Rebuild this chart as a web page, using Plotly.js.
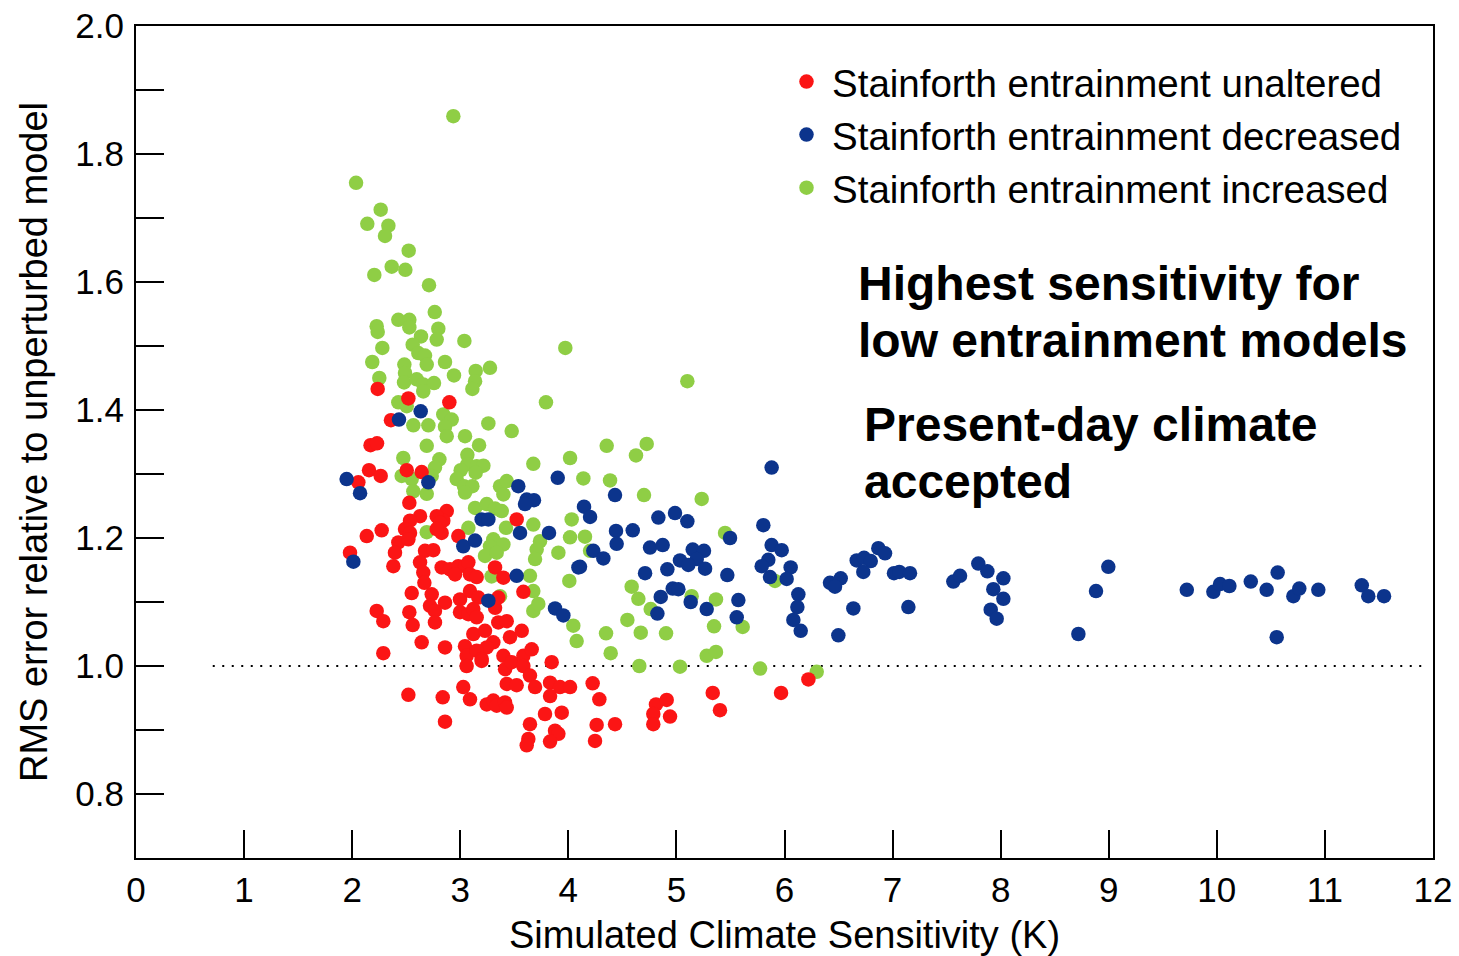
<!DOCTYPE html>
<html>
<head>
<meta charset="utf-8">
<script src="https://cdn.plot.ly/plotly-3.0.1.min.js"></script>
<style>html,body{margin:0;padding:0;background:#fff;}#chart{width:1459px;height:956px;}</style>
</head>
<body>
<div id="chart"></div>
<script>
// Stainforth entrainment unaltered (red)
const unalteredX = [2.236,2.520,2.899,2.359,2.17,2.23,2.156,2.264,2.505,2.643,2.057,2.529,2.875,2.843,2.782,2.628,2.535,2.489,2.427,2.396,2.381,2.535,2.520,2.273,2.135,2.813,2.828,2.782,2.982,3.522,2.674,2.751,2.628,2.658,1.980,2.828,2.905,2.982,3.044,3.075,2.952,3.090,3.152,3.322,3.399,2.668,2.551,2.736,2.998,3.090,3.167,2.859,2.720,2.766,3.322,3.352,3.584,2.227,2.288,2.529,2.560,2.766,2.998,3.075,3.121,3.152,3.352,3.430,3.460,3.569,3.121,3.229,3.306,3.245,3.044,3.059,3.152,3.198,2.643,2.859,2.288,3.059,3.198,3.399,3.415,3.476,3.584,3.661,3.584,3.645,3.692,3.846,3.831,3.923,4.016,3.831,3.430,3.522,3.028,3.090,3.245,3.306,3.337,3.414,3.430,2.520,2.838,2.859,3.784,3.939,3.645,3.877,3.908,3.831,3.630,3.615,4.225,4.287,4.262,4.247,4.432,4.811,4.910,4.786,4.786,4.941,5.336,5.403,5.968,6.221];
const unalteredY = [1.433,1.418,1.412,1.384,1.345,1.348,1.306,1.297,1.306,1.303,1.287,1.255,1.242,1.227,1.234,1.234,1.227,1.214,1.193,1.177,1.156,1.208,1.198,1.212,1.203,1.224,1.208,1.214,1.203,1.229,1.180,1.181,1.162,1.146,1.177,1.154,1.151,1.156,1.156,1.162,1.143,1.143,1.139,1.154,1.138,1.130,1.114,1.112,1.104,1.117,1.107,1.099,1.094,1.086,1.091,1.107,1.116,1.086,1.070,1.084,1.064,1.068,1.084,1.081,1.089,1.076,1.068,1.070,1.045,1.055,1.050,1.055,1.037,1.029,1.031,1.016,1.024,1.011,1.037,1.029,1.020,1.000,1.008,1.016,0.995,1.006,1.016,1.026,1.000,0.985,0.967,1.006,0.974,0.967,0.967,0.953,0.972,0.970,0.967,0.948,0.940,0.946,0.938,0.943,0.935,0.955,0.951,0.913,0.925,0.927,0.909,0.899,0.894,0.882,0.886,0.876,0.973,0.948,0.908,0.883,0.909,0.940,0.947,0.925,0.909,0.921,0.958,0.931,0.958,0.979];

// Stainforth entrainment decreased (blue)
const decreasedX = [2.634,2.433,1.949,2.705,2.073,2.011,3.537,3.615,3.682,3.599,3.902,3.198,3.260,3.028,3.137,3.553,3.821,3.522,4.093,3.260,3.877,3.954,4.432,4.145,4.201,4.833,4.987,5.101,5.804,4.441,4.447,4.596,5.496,4.231,4.324,4.756,4.873,5.151,5.255,5.188,5.033,5.110,5.881,5.974,5.850,5.789,5.866,6.057,6.020,4.108,4.710,4.916,5.265,5.471,4.966,5.018,4.855,4.824,5.132,5.280,5.573,5.558,6.128,6.119,6.082,6.150,6.637,6.498,6.668,6.736,6.798,6.729,6.421,6.520,6.467,5.881,6.868,6.930,7.013,7.062,7.161,7.146,7.562,7.624,7.793,7.877,7.932,8.025,8.025,7.908,7.963,8.719,8.882,8.996,9.722,9.968,10.030,10.116,10.314,10.461,10.563,10.554,10.708,10.763,10.939,11.341,11.401,11.547];
const decreasedY = [1.398,1.385,1.292,1.287,1.270,1.163,1.281,1.260,1.259,1.253,1.294,1.229,1.229,1.187,1.196,1.208,1.208,1.141,1.154,1.102,1.090,1.079,1.267,1.249,1.233,1.232,1.239,1.226,1.220,1.211,1.191,1.212,1.200,1.180,1.168,1.185,1.189,1.182,1.180,1.167,1.165,1.158,1.189,1.181,1.166,1.156,1.139,1.154,1.136,1.155,1.145,1.151,1.152,1.142,1.121,1.120,1.108,1.082,1.100,1.089,1.103,1.076,1.112,1.092,1.072,1.055,1.090,1.048,1.165,1.169,1.164,1.147,1.130,1.137,1.124,1.310,1.184,1.176,1.145,1.147,1.145,1.092,1.132,1.141,1.160,1.148,1.120,1.137,1.105,1.088,1.074,1.050,1.117,1.155,1.119,1.116,1.128,1.125,1.132,1.119,1.146,1.045,1.109,1.121,1.119,1.126,1.109,1.109];

// Stainforth entrainment increased (green)
const increasedX = [2.936,2.036,2.264,2.140,2.335,2.304,2.523,2.366,2.492,2.205,2.711,2.764,2.427,2.529,2.529,2.227,2.236,2.797,2.637,2.782,3.038,3.972,2.279,2.560,2.612,2.674,2.690,2.186,2.483,2.489,2.859,3.143,3.137,3.112,3.275,2.942,2.251,2.480,2.597,2.658,2.757,2.658,2.427,2.505,2.843,2.921,2.859,2.875,2.566,2.705,3.260,3.476,3.044,3.174,2.690,3.793,4.016,3.676,3.066,3.066,3.152,3.214,3.143,3.004,2.967,3.035,3.112,3.044,2.807,2.766,2.736,2.473,2.458,2.551,2.566,2.690,3.368,3.399,3.430,3.137,3.245,3.322,3.384,2.690,3.075,3.423,3.676,4.031,4.016,3.738,3.707,3.692,3.306,3.275,3.399,3.229,3.337,3.908,3.645,4.009,3.29,3.368,3.676,3.676,3.722,4.046,4.077,5.101,4.355,4.725,4.626,4.139,4.386,4.700,5.234,4.154,5.450,4.201,4.586,4.648,4.762,5.141,5.366,5.613,5.348,5.912,4.349,4.392,4.546,4.670,4.904,5.280,5.366,4.657,5.033,5.774,6.298];
const increasedY = [1.859,1.755,1.713,1.691,1.688,1.672,1.649,1.624,1.619,1.611,1.595,1.553,1.541,1.541,1.529,1.531,1.522,1.527,1.515,1.510,1.508,1.497,1.497,1.502,1.489,1.485,1.471,1.475,1.471,1.458,1.475,1.461,1.445,1.433,1.466,1.454,1.450,1.443,1.448,1.440,1.442,1.429,1.412,1.406,1.393,1.385,1.374,1.359,1.376,1.376,1.379,1.367,1.359,1.345,1.344,1.412,1.325,1.316,1.330,1.315,1.312,1.313,1.302,1.306,1.292,1.281,1.281,1.271,1.323,1.310,1.297,1.325,1.297,1.292,1.273,1.269,1.281,1.268,1.289,1.247,1.253,1.246,1.242,1.209,1.216,1.216,1.221,1.229,1.201,1.195,1.182,1.167,1.198,1.187,1.190,1.172,1.177,1.177,1.141,1.133,1.140,1.109,1.117,1.086,1.097,1.063,1.039,1.445,1.344,1.347,1.329,1.293,1.290,1.267,1.261,1.202,1.208,1.180,1.124,1.105,1.089,1.109,1.104,1.061,1.062,1.133,1.051,1.020,1.072,1.052,1.051,1.016,1.022,1.000,0.999,0.996,0.991];

const seriesNames = ["Stainforth entrainment unaltered","Stainforth entrainment decreased","Stainforth entrainment increased"];
const xTickVals = [0,1,2,3,4,5,6,7,8,9,10,11,12];
const yTickVals = [0.8,1.0,1.2,1.4,1.6,1.8,2.0];
const yTickText = ["0.8","1.0","1.2","1.4","1.6","1.8","2.0"];
const refLevel = 1.0;
const refLineX = [0.71, 11.93];
const xTitle = "Simulated Climate Sensitivity (K)";
const yTitle = "RMS error relative to unperturbed model";
const noteLines = ["Highest sensitivity for","low entrainment models","Present-day climate","accepted"];

const FONT = "Liberation Sans, Arial, Helvetica, sans-serif";
const MS = 14.5;

function tr(x, y, name, color, rank, grp) {
  return {type:"scatter", mode:"markers", x:x, y:y, name:name, legendrank:rank, legendgroup:grp,
    marker:{color:color, size:MS, line:{width:0}}, hoverinfo:"x+y"};
}
const data = [
  tr(increasedX, increasedY, seriesNames[2], "#8fce45", 3, "g3"),
  tr(unalteredX, unalteredY, seriesNames[0], "#fb1515", 1, "g1"),
  tr(decreasedX, decreasedY, seriesNames[1], "#0c348c", 2, "g2")
];

function px2x(p){ return (p-136)/1297; }
function px2y(p){ return 1-(p-26)/832; }

const layout = {
  width:1459, height:956,
  margin:{l:136, r:26, t:26, b:98, pad:0},
  paper_bgcolor:"#fff", plot_bgcolor:"#fff",
  font:{family:FONT, color:"#000", size:34},
  showlegend:true,
  legend:{x:px2x(781), y:px2y(50), xanchor:"left", yanchor:"top", bgcolor:"rgba(0,0,0,0)", borderwidth:0,
    font:{family:FONT, size:38.5, color:"#000"}, traceorder:"grouped", tracegroupgap:0, itemwidth:41},
  xaxis:{range:[0,12], tickvals:xTickVals, ticks:"inside", ticklen:28, tickwidth:2, tickcolor:"#000",
    showline:true, linewidth:2, linecolor:"#000", mirror:true, showgrid:false, zeroline:false,
    tickfont:{family:FONT, size:35, color:"#000"}, ticklabelstandoff:0,
    title:{text:xTitle, font:{family:FONT, size:38, color:"#000"}, standoff:13}},
  yaxis:{range:[0.7,2.0], tickvals:yTickVals, ticktext:yTickText, ticks:"inside", ticklen:28, tickwidth:2, tickcolor:"#000",
    minor:{dtick:0.1, tick0:0.7, ticks:"inside", ticklen:28, tickwidth:2, tickcolor:"#000", showgrid:false},
    showline:true, linewidth:2, linecolor:"#000", mirror:true, showgrid:false, zeroline:false,
    tickfont:{family:FONT, size:35, color:"#000"}, ticklabelstandoff:3,
    title:{text:yTitle, font:{family:FONT, size:38, color:"#000"}, standoff:16}},
  shapes:[{type:"line", xref:"x", yref:"y", x0:refLineX[0], x1:refLineX[1], y0:refLevel, y1:refLevel,
    line:{color:"#000", width:2, dash:"2px,7.5px"}, layer:"below"}],
  annotations:[
    {text:"<b>"+noteLines[0]+"</b>", xref:"paper", yref:"paper", x:px2x(856), y:px2y(283), xanchor:"left", yanchor:"middle", showarrow:false, font:{family:FONT, size:48, color:"#000"}},
    {text:"<b>"+noteLines[1]+"</b>", xref:"paper", yref:"paper", x:px2x(856), y:px2y(341), xanchor:"left", yanchor:"middle", showarrow:false, font:{family:FONT, size:48, color:"#000"}},
    {text:"<b>"+noteLines[2]+"</b>", xref:"paper", yref:"paper", x:px2x(862), y:px2y(424), xanchor:"left", yanchor:"middle", showarrow:false, font:{family:FONT, size:48, color:"#000"}},
    {text:"<b>"+noteLines[3]+"</b>", xref:"paper", yref:"paper", x:px2x(862), y:px2y(481), xanchor:"left", yanchor:"middle", showarrow:false, font:{family:FONT, size:48, color:"#000"}}
  ]
};
Plotly.newPlot("chart", data, layout, {displayModeBar:false, staticPlot:true});
</script>
</body>
</html>
